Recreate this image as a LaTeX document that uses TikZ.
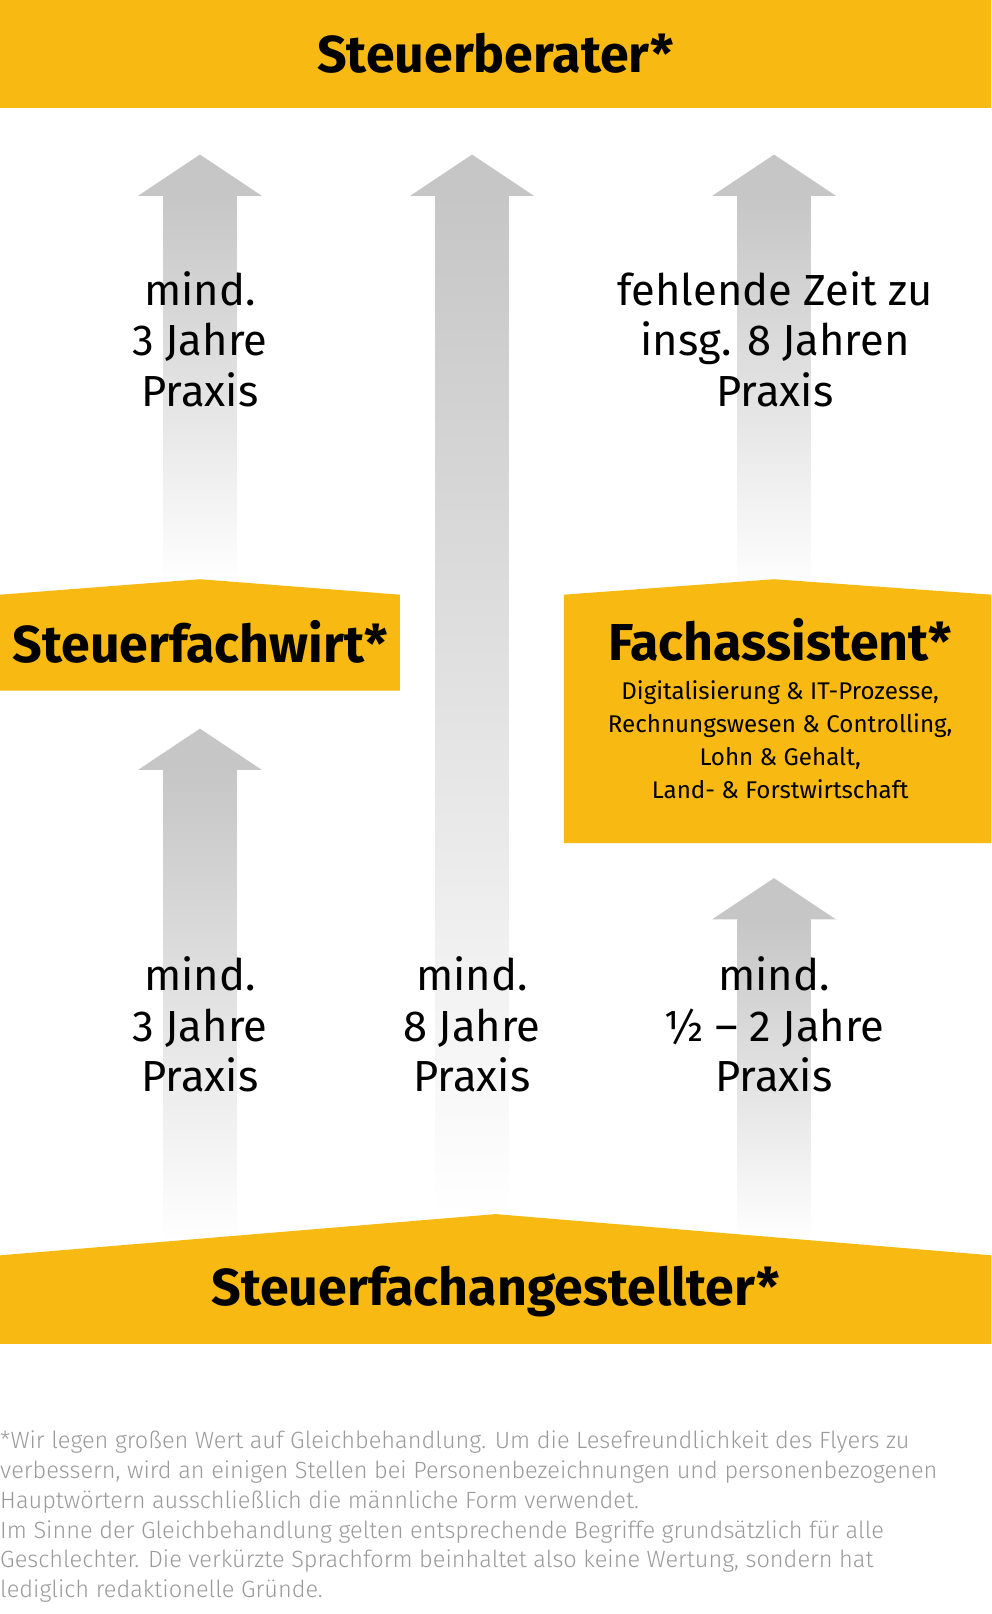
\documentclass[tikz,border=0pt]{standalone}
\usepackage{fontspec}
\setmainfont{Fira Sans}
\newfontfamily\footfont{Fira Sans Light}
\usetikzlibrary{positioning}
\definecolor{bannerYellow}{HTML}{F7B912}
\definecolor{arrowGray}{HTML}{C6C6C6}
\definecolor{footGray}{HTML}{9A9A9A}
% arrow: #1 centre x, #2 tip y, #3 shaft end y
\newcommand{\careerarrow}[3]{%
  \shade[top color=arrowGray,bottom color=white] (#1-35.5,#2+40) rectangle (#1+35.5,#3);
  \fill[arrowGray] (#1-60,#2+40) -- (#1,#2) -- (#1+60,#2+40) -- cycle;}
\begin{document}
\begin{tikzpicture}[x=0.03cm,y=-0.03cm,
  banner/.style={fill=bannerYellow},
  title/.style={font=\fontsize{43}{48}\selectfont\bfseries},
  praxis/.style={align=center,font=\fontsize{36}{42}\selectfont},
  topic/.style={align=center,font=\fontsize{20}{27.5}\selectfont}]
\useasboundingbox (0,0) rectangle (962,1566);
% arrows
\careerarrow{194}{150}{565}
\careerarrow{458}{150}{1180}
\careerarrow{751}{150}{575}
\careerarrow{194}{707}{1205}
\careerarrow{751}{852}{1205}
% banners
\fill[banner] (0,0) rectangle (962,105);
\fill[banner] (0,577) -- (194,562) -- (388,577) -- (388,670) -- (0,670) -- cycle;
\fill[banner] (547,577) -- (751,562) -- (962,577) -- (962,818) -- (547,818) -- cycle;
\fill[banner] (0,1218) -- (481,1178) -- (962,1218) -- (962,1304) -- (0,1304) -- cycle;
\node[title] (berater) at (481,52) {Steuerberater*};
\node[title] (fachwirt) at (194,623) {Steuerfachwirt*};
\node[title] (assistent) at (757,621) {Fachassistent*};
\node[topic,below=0.3cm of assistent] (themen) {Digitalisierung \& IT-Prozesse,\\Rechnungswesen \& Controlling,\\Lohn \& Gehalt,\\Land- \& Forstwirtschaft};
\node[title] (angestellter) at (481,1253) {Steuerfachangestellter*};
% labels
\node[praxis] (wirtZuBerater) at (194,329) {mind.\\3 Jahre\\Praxis};
\node[praxis] (assiZuBerater) at (752,329) {fehlende Zeit zu\\insg. 8 Jahren\\Praxis};
\node[praxis] (angZuWirt) at (194,994) {mind.\\3 Jahre\\Praxis};
\node[praxis] (angZuBerater) at (458,994) {mind.\\8 Jahre\\Praxis};
\node[praxis] (angZuAssi) at (751,994) {mind.\\½ – 2 Jahre\\Praxis};
% footnote
\node[anchor=north west,inner sep=0pt,text=footGray,align=left,
  font=\footfont\fontsize{19.5}{24.7}\selectfont] (hinweis) at (0,1388)
  {*Wir legen großen Wert auf Gleichbehandlung. Um die Lesefreundlichkeit des Flyers zu\\
   verbessern, wird an einigen Stellen bei Personenbezeichnungen und personenbezogenen\\
   Hauptwörtern ausschließlich die männliche Form verwendet.\\
   Im Sinne der Gleichbehandlung gelten entsprechende Begriffe grundsätzlich für alle\\
   Geschlechter. Die verkürzte Sprachform beinhaltet also keine Wertung, sondern hat\\
   lediglich redaktionelle Gründe.};
\end{tikzpicture}
\end{document}
